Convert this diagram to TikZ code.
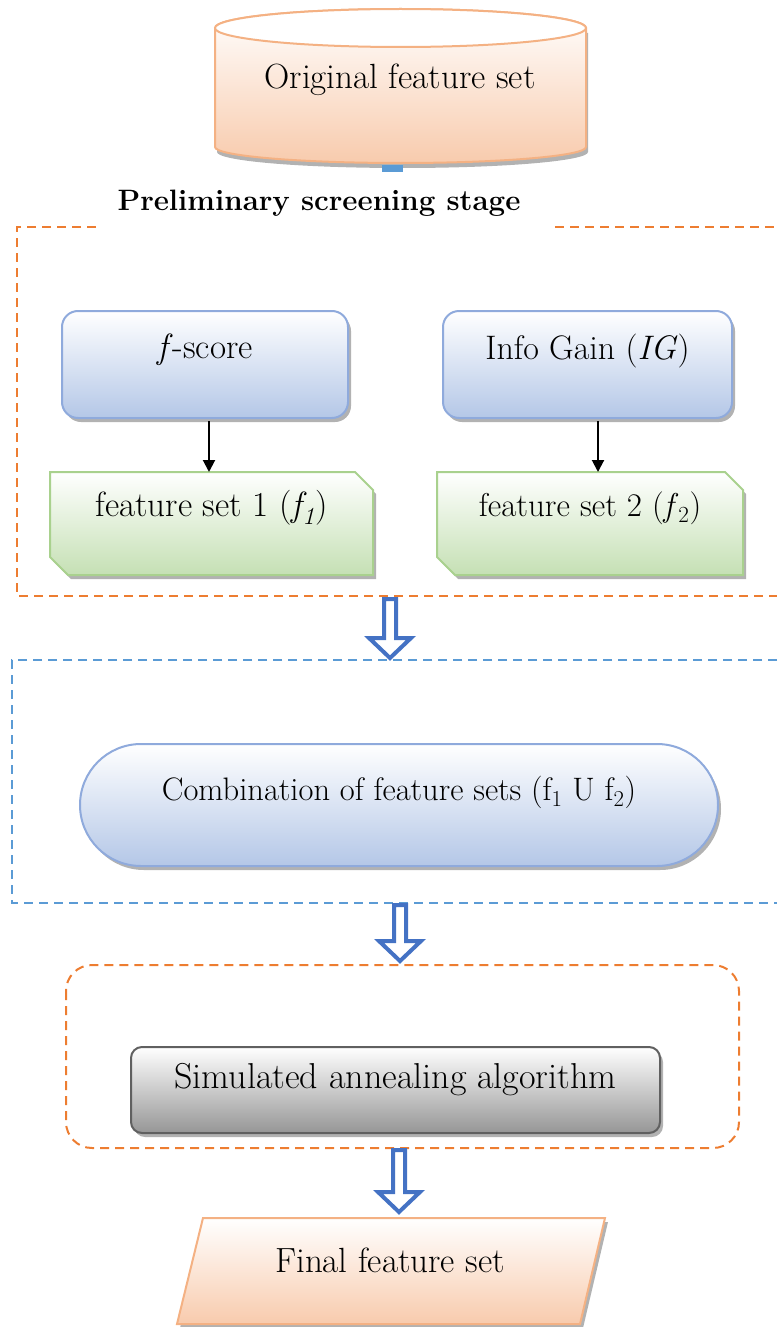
\documentclass[tikz,border=0pt]{standalone}
\usetikzlibrary{shapes.misc,shadows,calc,arrows.meta}
\definecolor{peach}{HTML}{F8CBAD}
\definecolor{peachline}{HTML}{F4B183}
\definecolor{bluefill}{HTML}{B4C7E7}
\definecolor{blueline}{HTML}{8FAADC}
\definecolor{greenfill}{HTML}{C5E0B4}
\definecolor{greenline}{HTML}{A9D18E}
\definecolor{grayfill}{HTML}{969696}
\definecolor{grayline}{HTML}{606060}
\definecolor{arrowblue}{HTML}{4472C4}
\definecolor{dashorange}{HTML}{ED7D31}
\definecolor{dashblue}{HTML}{5B9BD5}
\begin{document}
\begin{tikzpicture}[x=1pt,y=-1pt,
  every node/.style={font=\fontsize{35}{42}\selectfont, inner sep=0pt, outer sep=0pt},
  shad/.style={drop shadow={shadow xshift=3pt,shadow yshift=-4pt,fill=black,opacity=0.3}},
  bluebox/.style={rectangle, rounded corners=16pt, draw=blueline, line width=2pt, top color=white, bottom color=bluefill, shad},
  greenbox/.style={draw=greenline, line width=2pt, top color=white, bottom color=greenfill, shad},
  stadium/.style={rounded rectangle, draw=blueline, line width=2pt, top color=white, bottom color=bluefill, shad},
  graybox/.style={rectangle, rounded corners=11pt, draw=grayline, line width=2pt, top color=white, bottom color=grayfill, shad},
  orangedash/.style={draw=dashorange, line width=2pt, dash pattern=on 9pt off 6pt},
  bluedash/.style={draw=dashblue, line width=2pt, dash pattern=on 9pt off 6pt},
  thinarrow/.style={draw=black, line width=2pt, -{Triangle[length=12pt,width=12pt]}},
  hollow/.style={draw=arrowblue, line width=4pt, fill=white, line join=miter}
]
\useasboundingbox (0,0) rectangle (777,1327);

% ---- cylinder: original feature set
\path[fill=black, opacity=0.3, shift={(2,5)}]
  (215,28) -- (215,147) arc[start angle=180,end angle=360,x radius=185.5pt,y radius=16pt] -- (586,28) -- cycle;
\path[draw=peachline, line width=2pt, top color=white, bottom color=peach]
  (215,28) -- (215,147) arc[start angle=180,end angle=360,x radius=185.5pt,y radius=16pt]
  -- (586,28) arc[start angle=0,end angle=180,x radius=185.5pt,y radius=19pt] -- cycle;
\draw[peachline, line width=2pt, fill=white] (400.5,28) ellipse[x radius=185.5pt, y radius=19pt];
\node (orig) at (400,80) {Original feature set};
\fill[dashblue] (382,165) rectangle (403,172);

% ---- preliminary screening stage
\node[font=\fontsize{29.5}{35}\selectfont\bfseries] (prelim) at (319,203) {Preliminary screening stage};
\path[orangedash] (96,227) -- (17,227) -- (17,596) -- (777,596);
\path[orangedash] (555,227) -- (777,227);

\node[bluebox, minimum width=286pt, minimum height=107pt] (fscore) at (205,364.5) {};
\node (fscoretxt) at (205,350) {\textit{f}-score};
\node[bluebox, minimum width=289pt, minimum height=107pt] (ig) at (587.5,364.5) {};
\node[font=\fontsize{34}{40}\selectfont] (igtxt) at (587.5,351) {Info Gain (\textit{IG})};

\path[greenbox] (50,472) -- (355,472) -- (373,490) -- (373,575) -- (68,575) -- (50,557) -- cycle;
\coordinate (fs1top) at (209,472);
\node (fs1txt) at (211.5,508) {feature set 1 (\textit{f\textsubscript{1}})};
\path[greenbox] (437,472) -- (725,472) -- (743,490) -- (743,575) -- (455,575) -- (437,557) -- cycle;
\coordinate (fs2top) at (598,472);
\node[font=\fontsize{33}{40}\selectfont] (fs2txt) at (590,508) {feature set 2 (\textit{f}\textsubscript{2})};

\draw[thinarrow] (fscore.south -| fs1top) ++(0,3) -- (fs1top);
\draw[thinarrow] (ig.south -| fs2top) ++(0,3) -- (fs2top);

% ---- hollow arrow 1
\coordinate (a1s) at (390,599);
\coordinate (a1e) at (390,658);
\path[hollow] ($(a1s)+(-6,0)$) -- ($(a1e)+(-6,-20)$) -- ($(a1e)+(-21,-20)$) -- (a1e)
  -- ($(a1e)+(21,-20)$) -- ($(a1e)+(6,-20)$) -- ($(a1s)+(6,0)$) -- cycle;

% ---- combination stage
\path[bluedash] (777,660) -- (12,660) -- (12,903) -- (777,903);
\node[stadium, minimum width=638pt, minimum height=122pt] (comb) at (399,805) {};
\node[font=\fontsize{32.5}{39}\selectfont] (combtxt) at (399,792) {Combination of feature sets (f\textsubscript{1} U f\textsubscript{2})};

% ---- hollow arrow 2
\coordinate (a2s) at (400,905);
\coordinate (a2e) at (400,961);
\path[hollow] ($(a2s)+(-6,0)$) -- ($(a2e)+(-6,-20)$) -- ($(a2e)+(-21,-20)$) -- (a2e)
  -- ($(a2e)+(21,-20)$) -- ($(a2e)+(6,-20)$) -- ($(a2s)+(6,0)$) -- cycle;

% ---- simulated annealing
\path[orangedash, rounded corners=26pt] (66,965) rectangle (739,1148);
\node[graybox, minimum width=529pt, minimum height=86pt] (sa) at (395.5,1090) {};
\node[font=\fontsize{36}{43}\selectfont] (satxt) at (395.5,1080) {Simulated annealing algorithm};

% ---- hollow arrow 3
\coordinate (a3s) at (399,1150);
\coordinate (a3e) at (399,1212);
\path[hollow] ($(a3s)+(-6,0)$) -- ($(a3e)+(-6,-20)$) -- ($(a3e)+(-21,-20)$) -- (a3e)
  -- ($(a3e)+(21,-20)$) -- ($(a3e)+(6,-20)$) -- ($(a3s)+(6,0)$) -- cycle;

% ---- final feature set
\path[draw=peachline, line width=2pt, top color=white, bottom color=peach, shad]
  (203,1218) -- (605,1218) -- (580,1324) -- (177,1324) -- cycle;
\node (final) at (390,1260) {Final feature set};
\end{tikzpicture}
\end{document}
